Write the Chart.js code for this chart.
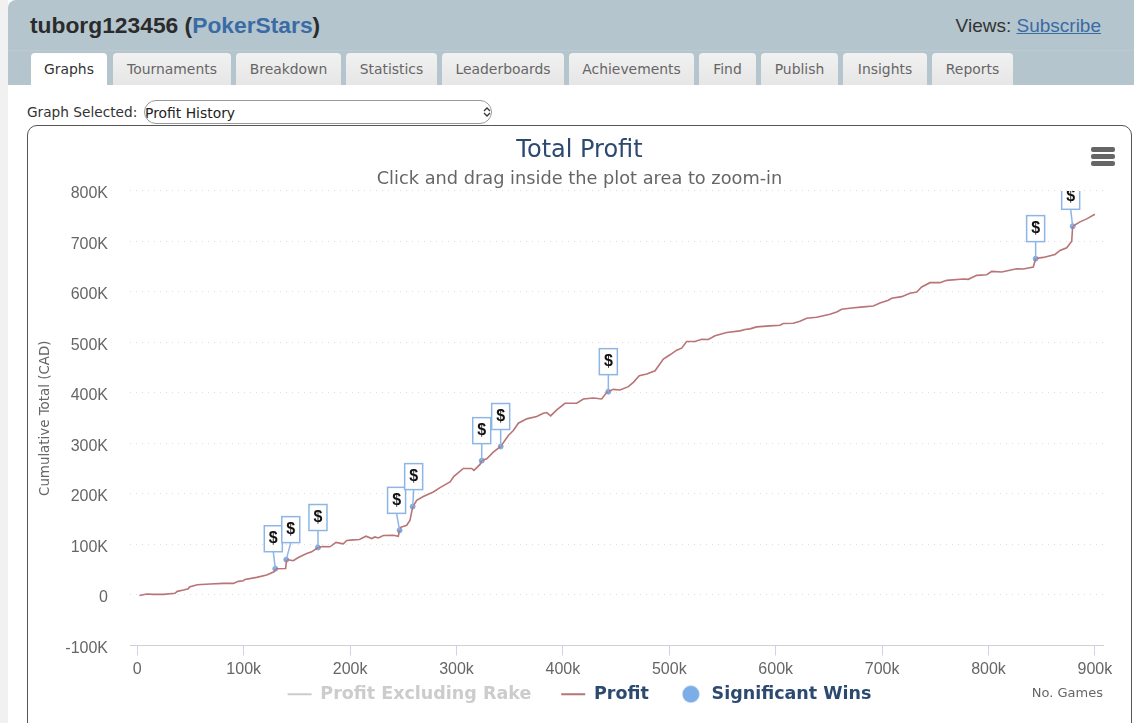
<!DOCTYPE html>
<html>
<head>
<meta charset="utf-8">
<title>Total Profit</title>
<script src="https://cdn.jsdelivr.net/npm/chart.js@4"></script>
<style>
  html, body { margin: 0; padding: 0; background: #fff; overflow: hidden; }
  body { width: 1134px; height: 723px; position: relative; font-family: "DejaVu Sans", sans-serif; }
  #strip { position: absolute; left: 0; top: 0; width: 8px; height: 723px; background: #f1f1f1; }
  #head { position: absolute; left: 8px; top: 0; width: 1126px; height: 85px; background: #b4c5ce; border-top-left-radius: 8px; }
  #rule { position: absolute; left: 8px; top: 50px; width: 1126px; height: 1px; background: #bccbd3; }
  #player { position: absolute; left: 30px; top: 12px; font: bold 22.8px "Liberation Sans", sans-serif; color: #2b2b2b; white-space: nowrap; }
  #player span { color: #3a6ba5; }
  #views { position: absolute; right: 33px; top: 15px; font: 19px "Liberation Sans", sans-serif; color: #333; white-space: nowrap; }
  #views a { color: #3a6ba5; text-decoration: underline; }
  .tab { position: absolute; top: 53px; height: 32px; line-height: 33px; text-align: center; font-size: 13.9px; color: #666;
         background: linear-gradient(#f1f1f1, #e6e6e6); border-radius: 4px 4px 0 0; }
  .tab.on { background: #fff; color: #333; }
  #pick { position: absolute; left: 27px; top: 104px; font-size: 13.7px; color: #333; white-space: nowrap; }
  #graph { position: absolute; left: 144px; top: 100px; width: 348px; height: 24px; box-sizing: border-box; padding: 2px 0 0 0; margin: 0;
           appearance: none; -webkit-appearance: none; border: 1px solid #999; border-radius: 12px; color: #222;
           font: 13.9px "DejaVu Sans", sans-serif; outline: none;
           background: #fff url("data:image/svg+xml,%3Csvg xmlns='http://www.w3.org/2000/svg' width='8' height='12'%3E%3Cpath d='M1 5l3-3 3 3M1 7l3 3 3-3' fill='none' stroke='%23333' stroke-width='1.3'/%3E%3C/svg%3E") no-repeat 338px 5px; }
  #box { position: absolute; left: 27px; top: 125px; width: 1103px; height: 640px; border: 1px solid #555; border-radius: 10px; }
  #box canvas { position: absolute; left: 0; top: 0; }
  .bar { position: absolute; left: 1091px; width: 24px; height: 5px; background: #666; border-radius: 2px; }
</style>
</head>
<body>
<div id="strip"></div>
<div id="head"></div>
<div id="rule"></div>
<div id="player">tuborg123456 (<span>PokerStars</span>)</div>
<div id="views">Views: <a>Subscribe</a></div>

<div class="tab on" style="left:31px;width:76px">Graphs</div>
<div class="tab" style="left:113px;width:118px">Tournaments</div>
<div class="tab" style="left:236px;width:105px">Breakdown</div>
<div class="tab" style="left:346px;width:91px">Statistics</div>
<div class="tab" style="left:442px;width:122px">Leaderboards</div>
<div class="tab" style="left:569px;width:125px">Achievements</div>
<div class="tab" style="left:699px;width:57px">Find</div>
<div class="tab" style="left:761px;width:77px">Publish</div>
<div class="tab" style="left:843px;width:84px">Insights</div>
<div class="tab" style="left:932px;width:81px">Reports</div>

<div id="pick">Graph Selected:</div>
<select id="graph"><option>Profit History</option></select>

<div id="box"><canvas id="myChart" width="1103" height="640"></canvas></div>
<div class="bar" style="top:147px"></div>
<div class="bar" style="top:154px"></div>
<div class="bar" style="top:161px"></div>

<script>
// all values, games and money both in thousands
var games = [2, 9, 15, 24.5, 35.4, 37.6, 43.3, 48, 49, 56.4, 68.3, 80.9, 90.3, 95, 99.7, 101.2, 112.2, 121.6, 128.5, 130.4,
  139.4, 140.4, 146.6, 151.3, 159.2, 163.9, 169.8, 174.8, 181, 186.7, 193.6, 196.8, 203, 208.7, 215, 220.3, 223.4, 226.5, 231.2, 240.6,
  245.3, 246.9, 253.2, 256.3, 258.8, 262.6, 268.8, 278.2, 284.5, 293.9, 297.6, 306.4, 314.3, 316.4, 322.1, 323.7, 328.4, 334.6, 341.5, 348.7,
  353.4, 358.1, 366, 375.4, 381.6, 384.8, 388.5, 394.2, 402, 413, 419.2, 428.6, 436.5, 441.2, 447.4, 453.7, 461.5, 466.2, 471.8, 478.8,
  486.6, 494.4, 500.7, 506.9, 511.6, 516.3, 524.2, 530.4, 536.7, 543, 553.9, 566.4, 571.1, 575.8, 582.1, 594.6, 604, 607.1, 616.5, 622.8,
  629.1, 638.5, 651, 657.3, 662, 671.4, 682.3, 691.7, 698, 705.8, 709, 718.4, 726.2, 732.5, 737.2, 745, 754.4, 760.7, 776.3, 781,
  788.9, 798.3, 803, 812.4, 826.5, 832.7, 842.1, 844.3, 851.5, 862.5, 867.2, 873.5, 878.2, 879.1, 886, 892.3, 900];
var profit = [-1, 2, 1.3, 1.3, 3.3, 7.2, 9.9, 12.5, 15.8, 20.4, 21.7, 23, 23, 27, 28.3, 30.9, 34.9, 39.5, 46, 52,
  52.6, 70.4, 67.8, 74.3, 82.2, 85.5, 94, 96, 95.4, 104, 101.3, 107.9, 109.2, 109.9, 116.4, 111.8, 115, 113, 117.8, 118.4,
  116.4, 133.5, 138.1, 148, 174.3, 187.5, 195, 204, 212.5, 223.7, 234.9, 250.6, 250.6, 246.7, 258.5, 266.4, 269.7, 282.9, 294, 315.8,
  325.6, 340.1, 348.7, 353.3, 359.8, 361.2, 354.6, 366.4, 379.6, 379.6, 388.1, 390.1, 388.1, 401.3, 407.2, 405.9, 412.5, 421, 434.2, 437.5,
  444, 467.1, 475.6, 484.8, 488.8, 501.9, 501.9, 506.5, 505.9, 513.1, 519.7, 523, 525.6, 526.9, 530.9, 532.9, 534.2, 537.5, 538.1, 542.1,
  548, 550, 555.9, 560.5, 565.7, 568.4, 570.4, 572.3, 578.3, 583.5, 587.5, 590.7, 597.3, 600, 609.8, 618.4, 618.4, 623, 625.6, 625,
  632.9, 634.2, 640.8, 639.4, 646, 645.4, 649.3, 666.4, 668.4, 674.3, 682.2, 687.4, 700.6, 730.2, 738.8, 744.7, 754];

var winGames = [129.7, 140, 169.8, 246.5, 258.8, 323.7, 341.5, 442.7, 844.3, 879.1];
var winProfit = [52, 70, 94, 128, 175, 266, 294, 402.6, 666, 730];

var seriesNames = ["Profit Excluding Rake", "Profit", "Significant Wins"];
var xTicks = [0, 100, 200, 300, 400, 500, 600, 700, 800, 900];
var xTickLabels = ["0", "100k", "200k", "300k", "400k", "500k", "600k", "700k", "800k", "900k"];
var yTicks = [-100, 0, 100, 200, 300, 400, 500, 600, 700, 800];
var yTickLabels = ["-100K", "0", "100K", "200K", "300K", "400K", "500K", "600K", "700K", "800K"];

var lineColor = "#b87476";
var winColor = "#7cade6";
var flagColor = "#8db6e6";
var navy = "#2c4a70";

// sideways nudge of each flag box over its point
var flagShift = [-2, 4.5, 0, -3, 1, 0, 0, 0, 0, -2];

// legend dot, a canvas so that it stays round next to the wider line keys
var dot = document.createElement("canvas");
dot.width = 18;
dot.height = 18;
var dotCtx = dot.getContext("2d");
dotCtx.fillStyle = winColor;
dotCtx.beginPath();
dotCtx.arc(9, 9, 8.5, 0, Math.PI * 2);
dotCtx.fill();

// flags plugin block
const flags = {
  id: "flags",
  // legend sits on the same row as the "No. Games" title, so lift it after layout
  afterLayout(chart) {
    chart.legend.top -= 24;
    chart.legend.bottom -= 24;
  },
  afterDatasetsDraw(chart) {
    const { ctx, chartArea } = chart;
    const points = chart.getDatasetMeta(2).data;
    ctx.save();
    ctx.beginPath();
    ctx.rect(chartArea.left, chartArea.top, chartArea.width, chartArea.height);
    ctx.clip();
    points.forEach((point, index) => {
      const cx = point.x + flagShift[index];
      const bottom = point.y - 17;
      ctx.strokeStyle = flagColor;
      ctx.lineWidth = 1.5;
      ctx.beginPath();
      ctx.moveTo(point.x, point.y);
      ctx.lineTo(cx, bottom);
      ctx.stroke();
      ctx.fillStyle = "#fff";
      ctx.fillRect(cx - 9, bottom - 26, 18, 26);
      ctx.strokeRect(cx - 9, bottom - 26, 18, 26);
      ctx.font = "bold 16px 'Liberation Sans'";
      ctx.fillStyle = "#111";
      ctx.textAlign = "center";
      ctx.textBaseline = "middle";
      ctx.fillText("$", cx, bottom - 13);
    });
    ctx.restore();
  },
};

const config = {
  type: "line",
  data: {
    datasets: [
      {
        label: seriesNames[0],
        data: [],
        hidden: true,
        borderColor: "#cccccc",
      },
      {
        label: seriesNames[1],
        data: games.map((g, i) => ({ x: g, y: profit[i] })),
        borderColor: lineColor,
        borderWidth: 1.6,
        pointRadius: 0,
        tension: 0,
      },
      {
        label: seriesNames[2],
        data: winGames.map((g, i) => ({ x: g, y: winProfit[i] })),
        showLine: false,
        pointRadius: 2.5,
        pointBackgroundColor: winColor,
        pointBorderColor: winColor,
      },
    ],
  },
  options: {
    responsive: false,
    animation: false,
    layout: { padding: { top: 10.35, left: 28, right: 28, bottom: 29 } },
    plugins: {
      tooltip: { enabled: false },
      title: {
        display: true,
        text: "Total Profit",
        color: navy,
        font: { family: "DejaVu Sans", size: 24, weight: "normal" },
        padding: { top: 0, bottom: 3.5 },
      },
      subtitle: {
        display: true,
        text: "Click and drag inside the plot area to zoom-in",
        color: "#666666",
        font: { family: "DejaVu Sans", size: 17.75, weight: "normal" },
        padding: { top: 0, bottom: 1 },
      },
      legend: {
        position: "bottom",
        labels: {
          usePointStyle: true,
          pointStyleWidth: 24,
          boxHeight: 12,
          padding: 30,
          font: { family: "DejaVu Sans", size: 17.5, weight: "bold" },
          generateLabels() {
            return [
              { text: seriesNames[0], fontColor: "#cccccc", strokeStyle: "#cccccc", lineWidth: 2, pointStyle: "line", datasetIndex: 0 },
              { text: seriesNames[1], fontColor: navy, strokeStyle: lineColor, lineWidth: 2, pointStyle: "line", datasetIndex: 1 },
              { text: seriesNames[2], fontColor: navy, pointStyle: dot, datasetIndex: 2 },
            ];
          },
        },
      },
    },
    scales: {
      x: {
        type: "linear",
        min: -6.86,
        max: 907.6,
        afterBuildTicks(scale) {
          scale.ticks = xTicks.map((v) => ({ value: v }));
        },
        afterFit(scale) {
          scale.height = 34;
        },
        grid: { drawOnChartArea: false, tickLength: 10, color: "#ccd6eb" },
        border: { color: "#cfcfd6" },
        ticks: {
          autoSkip: false,
          maxRotation: 0,
          padding: 4,
          color: "#666666",
          font: { family: "Liberation Sans", size: 16 },
          callback: (value, index) => xTickLabels[index],
        },
        title: {
          display: true,
          text: "No. Games",
          align: "end",
          color: "#666666",
          font: { family: "DejaVu Sans", size: 13 },
          padding: { top: 0, bottom: -21.8 },
        },
      },
      y: {
        min: -100,
        max: 800,
        afterBuildTicks(scale) {
          scale.ticks = yTicks.map((v) => ({ value: v }));
        },
        afterFit(scale) {
          scale.width = 74;
        },
        grid: { color: "#dddddd", drawTicks: false },
        border: { display: false, dash: [1, 5] },
        ticks: {
          padding: 22,
          labelOffset: 3,
          color: "#666666",
          font: { family: "Liberation Sans", size: 16 },
          callback: (value, index) => yTickLabels[index],
        },
        title: {
          display: true,
          text: "Cumulative Total (CAD)",
          color: "#666666",
          font: { family: "DejaVu Sans", size: 13.4 },
          padding: { top: -18.8, bottom: 0 },
        },
      },
    },
  },
  plugins: [flags],
};

var chartInstance = new Chart(document.getElementById("myChart"), config);
</script>
</body>
</html>
